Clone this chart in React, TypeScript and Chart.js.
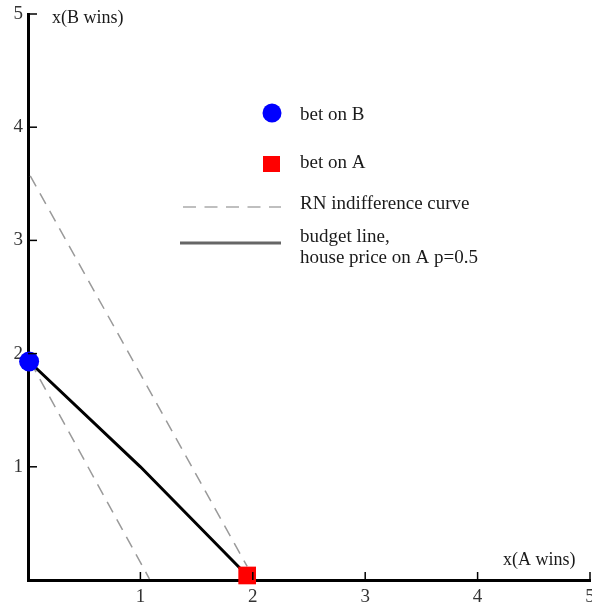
import React, { useEffect, useRef } from "react";
import { Chart, registerables } from "chart.js";

Chart.register(...registerables);

// ---- data ----
const xTicks = [0, 1, 2, 3, 4, 5];
const yTicks = [0, 1, 2, 3, 4, 5];
const betOnB = [{ x: 0.01, y: 1.93 }];
const betOnA = [{ x: 1.95, y: 0.04 }];
const budgetLine = [
  { x: 0.01, y: 1.93 },
  { x: 1, y: 1 },
  { x: 1.95, y: 0.04 },
];
const indiffUpper = [
  { x: 0.02, y: 3.57 },
  { x: 1.95, y: 0.12 },
];
const indiffLower = [
  { x: 0.02, y: 1.93 },
  { x: 1.08, y: 0.01 },
];
const legendLabels = ["bet on B", "bet on A", "RN indifference curve", "budget line,", "house price on A p=0.5"];
const xTitle = "x(A wins)";
const yTitle = "x(B wins)";

const FONT = '"Liberation Serif", "Times New Roman", serif';
const FONT_SIZE = 19;

const overlayPlugin = {
  id: "overlay",
  afterDraw(chart: any) {
    const ctx = chart.ctx as CanvasRenderingContext2D;
    const xs = chart.scales.x;
    const ys = chart.scales.y;
    ctx.save();
    // inward tick marks
    ctx.strokeStyle = "#000";
    ctx.lineWidth = 1.5;
    const x0 = xs.getPixelForValue(0);
    const y0 = ys.getPixelForValue(0);
    yTicks.forEach((v) => {
      if (v === 0) return;
      const py = ys.getPixelForValue(v);
      ctx.beginPath();
      ctx.moveTo(x0, py);
      ctx.lineTo(x0 + 9, py);
      ctx.stroke();
    });
    xTicks.forEach((v) => {
      if (v === 0) return;
      const px = xs.getPixelForValue(v);
      ctx.beginPath();
      ctx.moveTo(px, y0);
      ctx.lineTo(px, y0 - 8);
      ctx.stroke();
    });
    // axis titles
    ctx.fillStyle = "#1a1a1a";
    ctx.font = `18px ${FONT}`;
    ctx.textBaseline = "alphabetic";
    ctx.textAlign = "left";
    ctx.fillText(yTitle, 52, 23);
    ctx.fillText(xTitle, 503, 565);

    // legend
    ctx.font = `${FONT_SIZE}px ${FONT}`;
    ctx.fillStyle = "#0000ff";
    ctx.beginPath();
    ctx.arc(272, 113, 9.5, 0, Math.PI * 2);
    ctx.fill();
    ctx.fillStyle = "#ff0000";
    ctx.fillRect(263, 156, 17, 16);
    ctx.strokeStyle = "#aaaaaa";
    ctx.lineWidth = 1.5;
    ctx.setLineDash([13, 8.5]);
    ctx.beginPath();
    ctx.moveTo(183, 207);
    ctx.lineTo(281, 207);
    ctx.stroke();
    ctx.setLineDash([]);
    ctx.strokeStyle = "#666666";
    ctx.lineWidth = 3;
    ctx.beginPath();
    ctx.moveTo(180, 243);
    ctx.lineTo(281, 243);
    ctx.stroke();
    ctx.fillStyle = "#1a1a1a";
    ctx.fillText(legendLabels[0], 300, 120);
    ctx.fillText(legendLabels[1], 300, 168);
    ctx.fillText(legendLabels[2], 300, 209);
    ctx.fillText(legendLabels[3], 300, 242);
    ctx.fillText(legendLabels[4], 300, 263);
    ctx.restore();
  },
};

const zeroPad = () => ({ left: 0, top: 0, right: 0, bottom: 0 });

export default function App() {
  const ref = useRef<HTMLCanvasElement | null>(null);
  useEffect(() => {
    if (!ref.current) return;
    const fixX = (s: any) => {
      s.height = 26;
      s.paddingLeft = 0;
      s.paddingRight = 0;
      s.paddingTop = 0;
      s.paddingBottom = 0;
      s.getPadding = zeroPad;
    };
    const fixY = (s: any) => {
      s.width = 28;
      s.paddingLeft = 0;
      s.paddingRight = 0;
      s.paddingTop = 0;
      s.paddingBottom = 0;
      s.getPadding = zeroPad;
    };
    const chart = new Chart(ref.current, {
      type: "scatter",
      data: {
        datasets: [
          {
            label: legendLabels[0],
            data: betOnB,
            pointStyle: "circle",
            pointRadius: 10,
            backgroundColor: "#0000ff",
            borderColor: "#0000ff",
            borderWidth: 0,
            clip: false,
          } as any,
          {
            label: legendLabels[1],
            data: betOnA,
            pointStyle: "rect",
            pointRadius: 12.5,
            backgroundColor: "#ff0000",
            borderColor: "#ff0000",
            borderWidth: 0,
            clip: false,
          },
          {
            label: legendLabels[3],
            data: budgetLine,
            showLine: true,
            borderColor: "#000000",
            borderWidth: 3,
            pointRadius: 0,
            clip: false,
          },
          {
            label: legendLabels[2],
            data: indiffUpper,
            showLine: true,
            borderColor: "#9a9a9a",
            borderWidth: 1.5,
            borderDash: [12, 8],
            pointRadius: 0,
            clip: false,
          },
          {
            label: legendLabels[2],
            data: indiffLower,
            showLine: true,
            borderColor: "#9a9a9a",
            borderWidth: 1.5,
            borderDash: [12, 8],
            pointRadius: 0,
            clip: false,
          },
        ],
      },
      options: {
        responsive: false,
        animation: false,
        layout: { autoPadding: false, padding: { top: 14, right: 2, left: 0, bottom: 0 } },
        plugins: {
          legend: { display: false },
          tooltip: { enabled: false },
        },
        scales: {
          x: {
            type: "linear",
            min: 0,
            max: 5,
            afterFit: fixX,
            afterBuildTicks: (s: any) => {
              s.ticks = xTicks.map((v) => ({ value: v }));
            },
            grid: { display: false, drawTicks: false },
            border: { display: true, color: "#000", width: 3 },
            ticks: {
              padding: 6,
              color: "#333",
              font: { family: FONT, size: FONT_SIZE },
              maxRotation: 0,
              autoSkip: false,
              callback: (v: any) => (v === 0 ? "" : String(v)),
            },
          },
          y: {
            type: "linear",
            min: 0,
            max: 5,
            afterFit: fixY,
            afterBuildTicks: (s: any) => {
              s.ticks = yTicks.map((v) => ({ value: v }));
            },
            grid: { display: false, drawTicks: false },
            border: { display: true, color: "#000", width: 3 },
            ticks: {
              padding: 5,
              color: "#333",
              font: { family: FONT, size: FONT_SIZE },
              autoSkip: false,
              callback: (v: any) => (v === 0 ? "" : String(v)),
            },
          },
        },
      },
      plugins: [overlayPlugin],
    });
    return () => chart.destroy();
  }, []);
  return (
    <div style={{ position: "absolute", left: 0, top: 0, width: 592, height: 606, background: "#fff", overflow: "hidden" }}>
      <canvas ref={ref} width={592} height={606} style={{ display: "block" }} />
    </div>
  );
}
